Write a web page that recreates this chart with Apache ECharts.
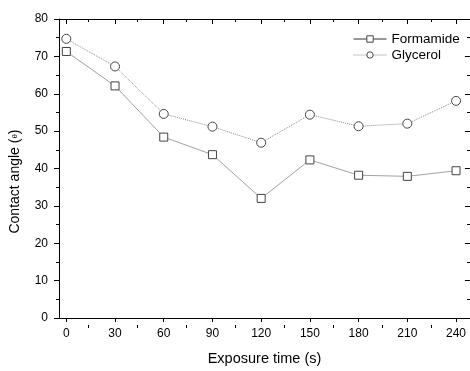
<!DOCTYPE html>
<html>
<head>
<meta charset="utf-8">
<script src="https://cdn.jsdelivr.net/npm/echarts@6/dist/echarts.min.js"></script>
<style>
  html, body { margin: 0; padding: 0; background: #fff; }
  #chart { width: 470px; height: 371px; }
</style>
</head>
<body>
<div id="chart"></div>
<script>
// exposure time (s)
const times = [0, 30, 60, 90, 120, 150, 180, 210, 240];
const formamide = [71.3, 62.1, 48.4, 43.7, 32.0, 42.3, 38.2, 37.9, 39.4];
const glycerol = [74.7, 67.3, 54.6, 51.2, 46.9, 54.4, 51.3, 52.0, 58.1];
const xTicks = [0, 30, 60, 90, 120, 150, 180, 210, 240];
const xMinorTicks = [15, 45, 75, 105, 135, 165, 195, 225];

const font = 'Liberation Sans, Arial, sans-serif';
const gridBox = { left: 56.7, right: 0, top: 19, bottom: 46 };
const xMin = -4.5, xMax = 248.6;

const chart = echarts.init(document.getElementById('chart'));

// helper axes in the second grid only carry the minor x ticks
const helperX = (pos, inside) => ({
    type: 'value', gridIndex: 1, position: pos, min: xMin, max: xMax,
    axisLine: { show: false, onZero: false },
    axisTick: { show: true, inside: inside, length: 3, customValues: xMinorTicks, lineStyle: { color: '#000' } },
    axisLabel: { show: false },
    splitLine: { show: false }
});

chart.setOption({
    animation: false,
    grid: [
        Object.assign({}, gridBox),
        Object.assign({}, gridBox)
    ],
    legend: {
        orient: 'vertical',
        left: 348,
        top: 27,
        itemWidth: 33,
        itemHeight: 8,
        itemGap: 2,
        textStyle: { fontFamily: font, fontSize: 13.5, color: '#000' },
        data: [
            { name: 'Formamide', itemStyle: { borderWidth: 1 }, lineStyle: { width: 1, color: '#333', type: 'solid' } },
            { name: 'Glycerol', itemStyle: { borderWidth: 1 }, lineStyle: { width: 1, color: '#888', type: 'dotted' } }
        ]
    },
    xAxis: [
        {
            type: 'value', gridIndex: 0, position: 'bottom', min: xMin, max: xMax,
            name: 'Exposure time (s)', nameLocation: 'middle', nameGap: 33,
            nameTextStyle: { fontFamily: font, fontSize: 14.5, color: '#000' },
            axisLine: { show: true, onZero: false, lineStyle: { color: '#000', width: 1 } },
            axisTick: { show: true, inside: false, length: 4, customValues: xTicks, lineStyle: { color: '#000' } },
            axisLabel: { customValues: xTicks, fontFamily: font, fontSize: 12, color: '#000', margin: 10 },
            splitLine: { show: false }
        },
        {
            type: 'value', gridIndex: 0, position: 'top', min: xMin, max: xMax,
            axisLine: { show: true, onZero: false, lineStyle: { color: '#000', width: 1 } },
            axisTick: { show: true, inside: true, length: 5, customValues: xTicks, lineStyle: { color: '#000' } },
            axisLabel: { show: false },
            splitLine: { show: false }
        },
        helperX('bottom', false),
        helperX('top', true)
    ],
    yAxis: [
        {
            type: 'value', gridIndex: 0, position: 'left', min: 0, max: 80, interval: 10,
            name: 'Contact angle ({s|θ})', nameLocation: 'middle', nameGap: 37,
            nameTextStyle: {
                fontFamily: font, fontSize: 14, color: '#000', padding: [0, 26, 0, 0],
                rich: { s: { fontFamily: font, fontSize: 8, color: '#000' } }
            },
            axisLine: { show: true, onZero: false, lineStyle: { color: '#000', width: 1 } },
            axisTick: { show: true, inside: false, length: 5, lineStyle: { color: '#000' } },
            minorTick: { show: true, splitNumber: 2, length: 3, lineStyle: { color: '#000' } },
            axisLabel: { fontFamily: font, fontSize: 12, color: '#000', margin: 11 },
            splitLine: { show: false },
            minorSplitLine: { show: false }
        },
        {
            type: 'value', gridIndex: 0, position: 'right', min: 0, max: 80, interval: 10,
            axisLine: { show: false, onZero: false },
            axisTick: { show: true, inside: true, length: 5, lineStyle: { color: '#000' } },
            minorTick: { show: true, splitNumber: 2, length: 3, lineStyle: { color: '#000' } },
            axisLabel: { show: false },
            splitLine: { show: false },
            minorSplitLine: { show: false }
        },
        { type: 'value', gridIndex: 1, min: 0, max: 80, show: false },
        { type: 'value', gridIndex: 1, min: 0, max: 80, position: 'right', show: false }
    ],
    series: [
        {
            name: 'Formamide', type: 'line', xAxisIndex: 0, yAxisIndex: 0,
            data: times.map((t, i) => [t, formamide[i]]),
            symbol: 'rect', symbolSize: 8,
            lineStyle: { color: '#8a8a8a', width: 0.8, type: 'solid' },
            itemStyle: { color: '#fff', borderColor: '#444', borderWidth: 1 }
        },
        {
            name: 'Glycerol', type: 'line', xAxisIndex: 0, yAxisIndex: 0,
            data: times.map((t, i) => [t, glycerol[i]]),
            symbol: 'circle', symbolSize: 9,
            lineStyle: { color: '#8a8a8a', width: 1, type: 'dotted' },
            itemStyle: { color: '#fff', borderColor: '#444', borderWidth: 1 }
        }
    ]
});
</script>
</body>
</html>
